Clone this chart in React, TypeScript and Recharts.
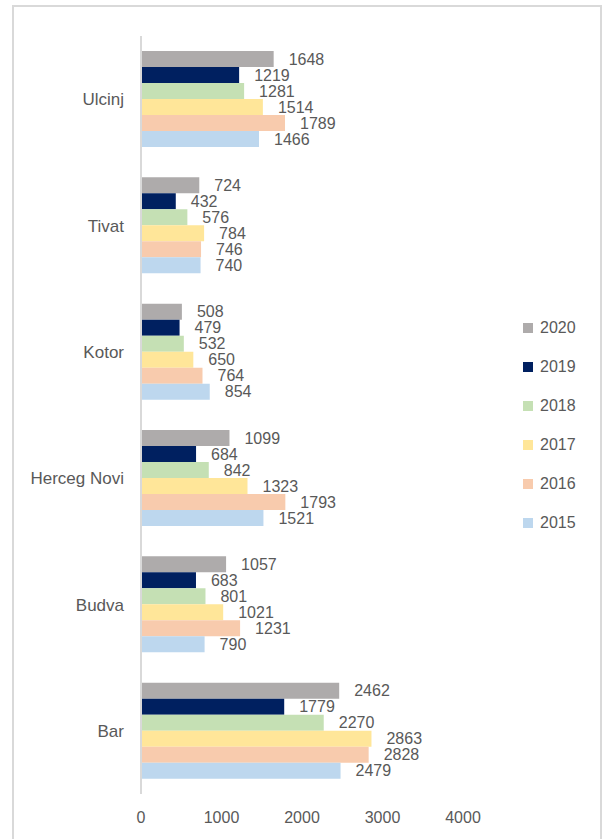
import { BarChart, Bar, XAxis, YAxis, LabelList } from 'recharts';

const towns = ['Ulcinj', 'Tivat', 'Kotor', 'Herceg Novi', 'Budva', 'Bar'];
const years = ['2020', '2019', '2018', '2017', '2016', '2015'];
const colors = ['#AEABAB', '#002060', '#C5E0B4', '#FFE699', '#F8CBAD', '#BDD7EE'];

const v2020 = [1648, 724, 508, 1099, 1057, 2462];
const v2019 = [1219, 432, 479, 684, 683, 1779];
const v2018 = [1281, 576, 532, 842, 801, 2270];
const v2017 = [1514, 784, 650, 1323, 1021, 2863];
const v2016 = [1789, 746, 764, 1793, 1231, 2828];
const v2015 = [1466, 740, 854, 1521, 790, 2479];

const xTicks = [0, 1000, 2000, 3000, 4000];

const seriesValues = [v2020, v2019, v2018, v2017, v2016, v2015];

const data = towns.map((town, i) => {
  const row: Record<string, string | number> = { town };
  years.forEach((y, j) => {
    row[y] = seriesValues[j][i];
  });
  return row;
});

const textColor = '#595959';
const font = '"Liberation Sans", Arial, sans-serif';

// legend drawn as plain html so it doesn't eat plot width
function YearLegend() {
  return (
    <div style={{ position: 'absolute', left: 523, top: 308, fontFamily: font }}>
      {years.map((y, j) => (
        <div key={y} style={{ display: 'flex', alignItems: 'center', height: 39 }}>
          <span style={{ width: 10, height: 10, background: colors[j], display: 'inline-block', marginRight: 7 }} />
          <span style={{ color: textColor, fontSize: 16 }}>{y}</span>
        </div>
      ))}
    </div>
  );
}

export default function App() {
  return (
    <div style={{ position: 'fixed', left: 0, top: 0, width: 608, height: 839, background: '#fff', overflow: 'hidden' }}>
      <BarChart
        width={608}
        height={839}
        data={data}
        layout="vertical"
        margin={{ top: 36, right: 145, bottom: 0, left: 0 }}
        barCategoryGap={15}
        barGap={0}
        style={{ position: 'absolute', left: 0, top: 0, fontFamily: font }}
      >
        <XAxis
          type="number"
          domain={[0, 4000]}
          ticks={xTicks}
          axisLine={false}
          tickLine={false}
          height={45}
          tickMargin={12}
          tick={{ fill: textColor, fontSize: 16 }}
        />
        <YAxis
          type="category"
          dataKey="town"
          width={141}
          axisLine={{ stroke: '#D9D9D9', strokeWidth: 2 }}
          tickLine={false}
          tickSize={0}
          tickMargin={17}
          tick={{ fill: textColor, fontSize: 17 }}
        />
        {years.map((y, j) => (
          <Bar key={y} dataKey={y} name={y} fill={colors[j]} isAnimationActive={false}>
            <LabelList dataKey={y} position="right" offset={15} fill={textColor} fontSize={16} />
          </Bar>
        ))}
      </BarChart>
      <YearLegend />
      <div
        style={{
          position: 'absolute',
          left: 12,
          top: 5,
          right: 6,
          bottom: -20,
          border: '2px solid #D9D9D9',
          pointerEvents: 'none',
        }}
      />
    </div>
  );
}
